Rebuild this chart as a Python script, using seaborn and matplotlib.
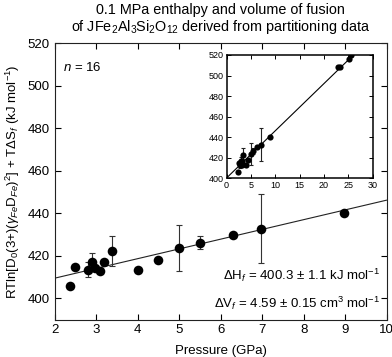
import numpy as np
import pandas as pd
import seaborn as sns
import matplotlib.pyplot as plt

# pressure (GPa) and RTln term (kJ/mol)
pressure = [2.38, 2.49, 2.80, 2.90, 2.98, 3.10, 3.20, 3.39, 4.00, 4.49, 4.99, 5.49, 6.29, 6.98, 8.97]
energy = [405.9, 414.8, 413.4, 416.9, 414.3, 412.8, 416.9, 422.3, 413.3, 418.1, 423.7, 426.2, 430.0, 432.8, 440.3]
err = [0, 0, 3.5, 4.2, 0, 0, 0, 7.0, 0, 0, 11.0, 3.0, 0, 16.3, 0]

# extra high pressure points shown only in the inset
hp_pressure = [22.9, 23.4, 25.1, 25.6]
hp_energy = [508.6, 508.6, 515.8, 520.0]

dH = 400.3
dV = 4.59

sns.set_style("ticks")
plt.rcParams['font.family'] = ['Liberation Sans', 'DejaVu Sans']
plt.rcParams['mathtext.fontset'] = 'custom'
plt.rcParams['mathtext.rm'] = 'Liberation Sans'
plt.rcParams['mathtext.it'] = 'Liberation Sans:italic'
plt.rcParams['mathtext.bf'] = 'Liberation Sans:bold'
plt.rcParams['text.color'] = 'black'
plt.rcParams['axes.labelcolor'] = 'black'
plt.rcParams['xtick.color'] = 'black'
plt.rcParams['ytick.color'] = 'black'
plt.rcParams['axes.edgecolor'] = '#222222'

df = pd.DataFrame({'P': pressure, 'E': energy, 'err': err})
df_all = pd.concat([df, pd.DataFrame({'P': hp_pressure, 'E': hp_energy, 'err': 0.0})])

fig = plt.figure(figsize=(3.92, 3.57), dpi=100)
ax = fig.add_axes([0.1395, 0.1048, 0.847, 0.774])

# fit line
xl = np.array([2, 10])
ax.plot(xl, dH + dV * xl, color='#222222', lw=0.8, zorder=1)
ax.errorbar(df['P'], df['E'], yerr=df['err'], fmt='none', ecolor='#333333', elinewidth=0.8, capsize=2, capthick=0.8, zorder=2)
sns.scatterplot(data=df, x='P', y='E', ax=ax, color='black', s=48, linewidth=0, zorder=3)

ax.set_xlim(2, 10)
ax.set_ylim(390, 520)
ax.set_xticks(range(2, 11))
ax.set_yticks(range(400, 521, 20))
ax.tick_params(direction='in', top=True, right=True, length=4, width=0.8, labelsize=9.5)
for s in ax.spines.values():
    s.set_linewidth(0.8)
ax.set_xlabel('Pressure (GPa)', fontsize=9.5, labelpad=6)
ax.set_ylabel(r'RTln[D$_0$(3+)($\gamma_{Fe}$D$_{Fe}$)$^2$] + T$\Delta$S$_f$ (kJ mol$^{-1}$)', fontsize=9.5, labelpad=4)
ax.set_title('0.1 MPa enthalpy and volume of fusion\n'
             r'of JFe$_2$Al$_3$Si$_2$O$_{12}$ derived from partitioning data',
             fontsize=10.4, pad=9, linespacing=1.05)

ax.text(2.2, 508.5, r'$n$ = 16', fontsize=9.5, va='center', ha='left')
ax.text(9.85, 411.0, r'$\Delta$H$_f$ = 400.3 $\pm$ 1.1 kJ mol$^{-1}$', fontsize=9.5, ha='right', va='center')
ax.text(9.85, 397.5, r'$\Delta$V$_f$ = 4.59 $\pm$ 0.15 cm$^3$ mol$^{-1}$', fontsize=9.5, ha='right', va='center')

# inset
ins = fig.add_axes([0.578, 0.5006, 0.3724, 0.3454])
xi = np.array([0, 30])
ins.plot(xi, dH + dV * xi, color='black', lw=0.8, zorder=1)
ins.errorbar(df_all['P'], df_all['E'], yerr=df_all['err'], fmt='none', ecolor='#222222', elinewidth=0.8, capsize=1.5, capthick=0.8, zorder=2)
sns.scatterplot(data=df_all, x='P', y='E', ax=ins, color='black', s=20, linewidth=0, zorder=3)
ins.set_xlim(0, 30)
ins.set_ylim(400, 520)
ins.set_xticks(range(0, 31, 5))
ins.set_yticks(range(400, 521, 20))
ins.tick_params(direction='in', top=True, right=True, length=3, width=0.7, labelsize=6.5, pad=2)
for s in ins.spines.values():
    s.set_linewidth(1.1)
    s.set_color('black')
ins.set_xlabel('')
ins.set_ylabel('')

fig.savefig('out.png', dpi=100)
